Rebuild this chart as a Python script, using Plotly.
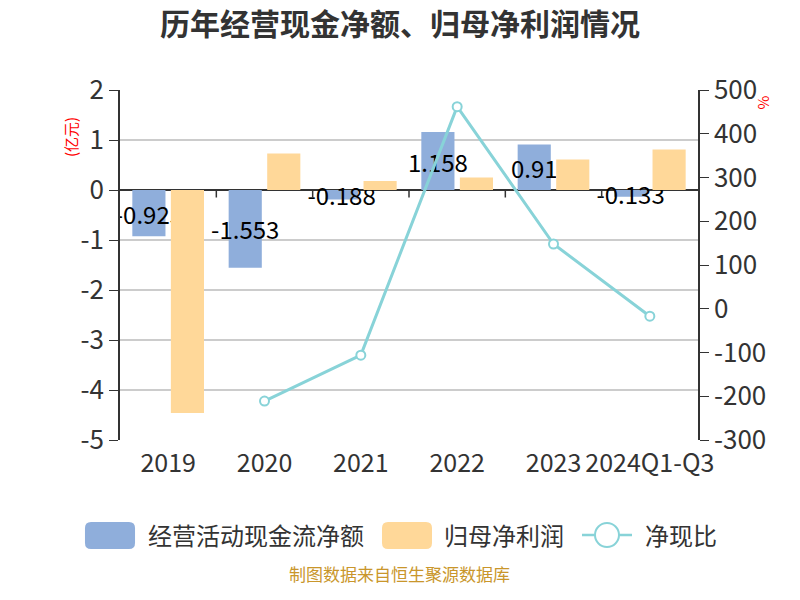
import plotly.graph_objects as go

categories = ["2019", "2020", "2021", "2022", "2023", "2024Q1-Q3"]
cash_flow = [-0.925, -1.553, -0.188, 1.158, 0.91, -0.133]
net_profit = [-4.46, 0.73, 0.18, 0.25, 0.61, 0.81]
cash_ratio = [None, -211, -106, 462, 148, -17]

left_ticks = [-5, -4, -3, -2, -1, 0, 1, 2]
left_tick_text = ["-5", "-4", "-3", "-2", "-1", "0", "1", "2"]
right_ticks = [-300, -200, -100, 0, 100, 200, 300, 400, 500]
right_tick_text = ["-300", "-200", "-100", "0", "100", "200", "300", "400", "500"]

series_names = ["经营活动现金流净额", "归母净利润", "净现比"]
chart_title = "历年经营现金净额、归母净利润情况"

BLUE = "#8FAEDB"
ORANGE = "#FFD899"
TEAL = "#88D3D8"
FONT = "Noto Sans CJK SC, Microsoft YaHei, sans-serif"

fig = go.Figure()
fig.add_trace(go.Bar(
    x=categories, y=cash_flow, name=series_names[0],
    marker=dict(color=BLUE, line=dict(width=0)),
    text=[str(v) for v in cash_flow], textposition="inside",
    insidetextanchor="middle", textangle=0,
    insidetextfont=dict(color="#000000", size=24, family=FONT),
    hoverinfo="skip", showlegend=False,
))
fig.add_trace(go.Bar(
    x=categories, y=net_profit, name=series_names[1],
    marker=dict(color=ORANGE, line=dict(width=0)),
    hoverinfo="skip", showlegend=False,
))
fig.add_trace(go.Scatter(
    x=categories, y=cash_ratio, name=series_names[2], yaxis="y2",
    mode="lines+markers", connectgaps=False,
    line=dict(color=TEAL, width=3),
    marker=dict(symbol="circle", size=9, color="#ffffff",
                line=dict(color=TEAL, width=2)),
    hoverinfo="skip", showlegend=False,
))

# category boundary ticks on the zero line
shapes = []
for i in range(len(categories) - 1):
    shapes.append(dict(type="line", xref="x", yref="y",
                       x0=i + 0.5, x1=i + 0.5, y0=0, y1=-0.15,
                       line=dict(color="#333333", width=1.5)))


def rounded_rect(x0, x1, y0, y1, rx, ry):
    return (f"M{x0+rx},{y0} L{x1-rx},{y0} Q{x1},{y0} {x1},{y0+ry} "
            f"L{x1},{y1-ry} Q{x1},{y1} {x1-rx},{y1} L{x0+rx},{y1} "
            f"Q{x0},{y1} {x0},{y1-ry} L{x0},{y0+ry} Q{x0},{y0} {x0+rx},{y0} Z")


RX, RY = 6 / 578, 6 / 350
LEG_Y = -0.2714
# custom legend (plot-area relative paper coordinates)
shapes.append(dict(type="path", xref="paper", yref="paper",
                   path=rounded_rect(-0.0606, 0.0260, -0.3114, -0.2343, RX, RY),
                   fillcolor=BLUE, line=dict(width=0)))
shapes.append(dict(type="path", xref="paper", yref="paper",
                   path=rounded_rect(0.4533, 0.5398, -0.3114, -0.2343, RX, RY),
                   fillcolor=ORANGE, line=dict(width=0)))
shapes.append(dict(type="line", xref="paper", yref="paper",
                   x0=0.7993, x1=0.8858, y0=LEG_Y, y1=LEG_Y,
                   line=dict(color=TEAL, width=2.5)))
shapes.append(dict(type="circle", xref="paper", yref="paper",
                   x0=0.8218, x1=0.8633, y0=-0.3057, y1=-0.2371,
                   fillcolor="#ffffff", line=dict(color=TEAL, width=2)))

legend_text_x = [0.045, 0.5571, 0.9048]

annotations = [
    dict(text="<b>" + chart_title + "</b>", xref="paper", yref="paper",
         x=0.4844, y=1.194, xanchor="center", yanchor="middle",
         showarrow=False, font=dict(size=30, color="#333333", family=FONT)),
    dict(text="(亿元)", xref="paper", yref="paper", x=-0.1064, y=0.9286,
         showarrow=False, textangle=-90, font=dict(size=15, color="#ff0000")),
    dict(text="%", xref="paper", yref="paper", x=1.1367, y=0.991,
         showarrow=False, textangle=90, font=dict(size=15, color="#ff0000")),
    dict(text="制图数据来自恒生聚源数据库", xref="paper", yref="paper",
         x=0.4844, y=-0.4229, showarrow=False,
         font=dict(size=17, color="#C9962B")),
]
for name, lx in zip(series_names, legend_text_x):
    annotations.append(dict(text=name, xref="paper", yref="paper",
                            x=lx, y=LEG_Y, xanchor="left", yanchor="middle",
                            showarrow=False,
                            font=dict(size=24, color="#333333")))

fig.update_layout(
    width=800, height=600,
    margin=dict(l=112, r=110, t=82, b=168, autoexpand=False),
    paper_bgcolor="#ffffff", plot_bgcolor="#ffffff",
    font=dict(family=FONT, color="#333333"),
    barmode="group", bargap=0.2, bargroupgap=0.14,
    uniformtext=dict(minsize=24, mode="show"),
    xaxis=dict(type="category", showgrid=False, showline=False,
               ticks="", tickangle=0, tickfont=dict(size=25, color="#333333"),
               zeroline=False, ticklabelstandoff=6),
    yaxis=dict(range=[-5, 2], tickvals=left_ticks, ticktext=left_tick_text,
               showgrid=True, gridcolor="#cccccc",
               gridwidth=1.5, zeroline=True, zerolinecolor="#333333",
               zerolinewidth=1.5, showline=True, linecolor="#333333",
               linewidth=1.5, ticks="outside", ticklen=9, tickcolor="#333333",
               tickfont=dict(size=26, color="#333333")),
    yaxis2=dict(range=[-300, 500], tickvals=right_ticks,
                ticktext=right_tick_text, overlaying="y", side="right",
                showgrid=False, zeroline=False, showline=True,
                linecolor="#333333", linewidth=1.5, ticks="outside",
                ticklen=9, tickcolor="#333333",
                tickfont=dict(size=26, color="#333333")),
    shapes=shapes,
    annotations=annotations,
    showlegend=False,
)

fig.write_html("out.html")
